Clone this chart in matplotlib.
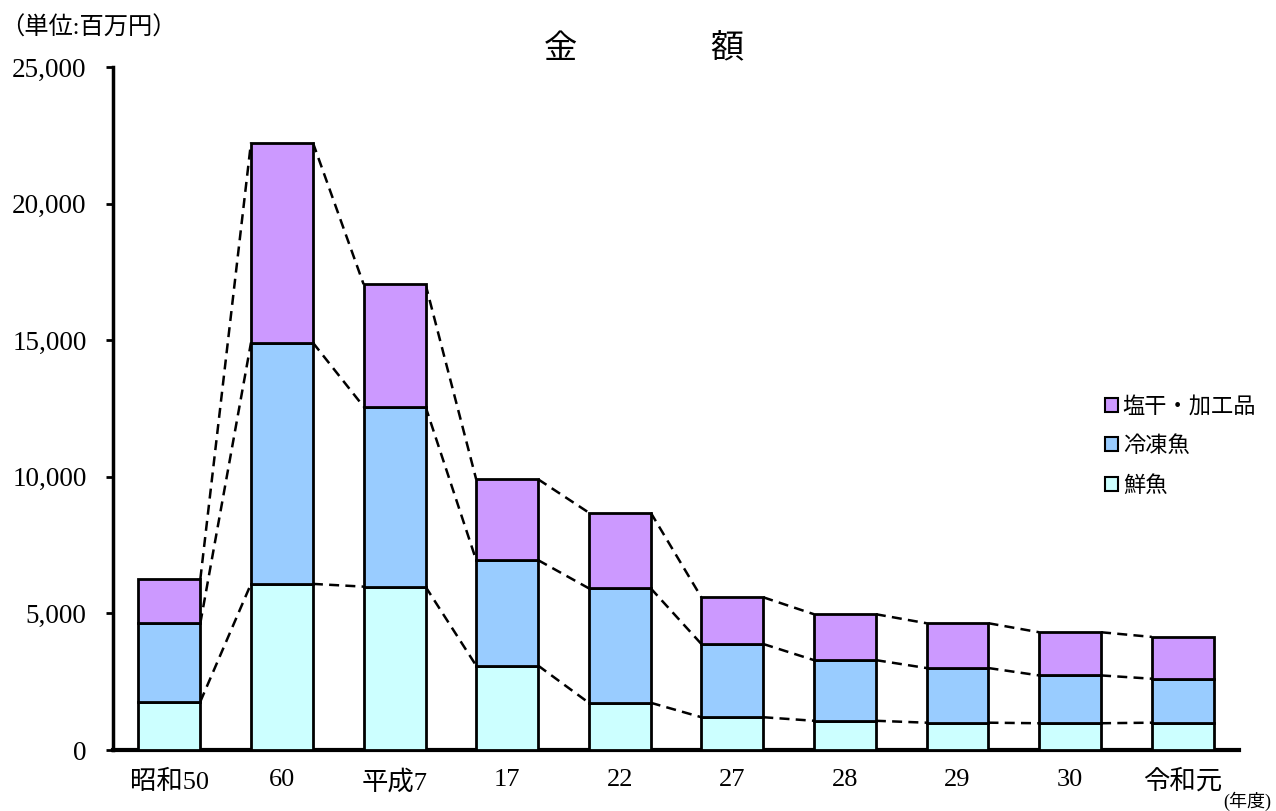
import numpy as np
import matplotlib
matplotlib.use('Agg')
import matplotlib.pyplot as plt
from matplotlib.patches import Patch

# Data (単位: 百万円)
years = ['昭和50', '60', '平成7', '17', '22', '27', '28', '29', '30', '令和元']
fresh = [1770, 6080, 5980, 3090, 1730, 1200, 1070, 1000, 980, 1000]
frozen = [2870, 8830, 6590, 3860, 4190, 2680, 2220, 2000, 1750, 1610]
salted = [1610, 7320, 4480, 2960, 2770, 1710, 1680, 1640, 1580, 1530]
series_names = ['鮮魚', '冷凍魚', '塩干・加工品']
colors = ['#CCFFFF', '#99CCFF', '#CC99FF']

fonts = ['Liberation Serif', 'Noto Sans CJK JP', 'DejaVu Sans']
plt.rcParams['font.family'] = fonts

fig = plt.figure(figsize=(12.76, 8.11), dpi=100)
ax = fig.add_axes([0.0886, 0.0752, 0.8824, 0.8422])

x = np.arange(len(years))
w = 0.55
bottom = np.zeros(len(years))
for vals, name, c in zip([fresh, frozen, salted], series_names, colors):
    vals = np.array(vals)
    ax.bar(x, vals, w, bottom=bottom, color=c, edgecolor='black',
           linewidth=2, label=name, zorder=3)
    bottom = bottom + vals
    # series lines between bars
    for i in range(len(years) - 1):
        ax.plot([x[i] + w / 2, x[i + 1] - w / 2], [bottom[i], bottom[i + 1]],
                color='black', linestyle=(0, (4, 2.5)), linewidth=1.8, zorder=2)

ax.set_xlim(-0.5, len(years) - 0.5)
ax.set_ylim(0, 25000)
ax.set_yticks(np.arange(0, 25001, 5000))
ax.set_yticklabels(['{:,}'.format(v) for v in range(0, 25001, 5000)], fontsize=19.5)
ax.set_xticks(x)
ax.set_xticklabels(years, fontsize=19)
ax.tick_params(axis='x', length=0, pad=14)
ax.tick_params(axis='y', direction='out', length=5, width=2, pad=14)

for s in ['top', 'right']:
    ax.spines[s].set_visible(False)
ax.spines['left'].set_linewidth(2.5)
ax.spines['bottom'].set_linewidth(3)

fig.text(0.505, 0.94, '金　　　　額', fontsize=24, ha='center', va='center')
fig.text(0.0, 0.965, '（単位:百万円）', fontsize=17.5, ha='left', va='center')
fig.text(0.996, 0.012, '(年度)', fontsize=13, ha='right', va='center')

handles = [Patch(facecolor=c, edgecolor='black', linewidth=1.5) for c in colors]
leg = ax.legend(handles[::-1], series_names[::-1], loc='center left',
                bbox_to_anchor=(0.881, 0.444), frameon=False, fontsize=16,
                handlelength=0.6, handleheight=0.6, handletextpad=0.2,
                labelspacing=0.85, borderaxespad=0, borderpad=0)

fig.savefig('out.png', dpi=100)
